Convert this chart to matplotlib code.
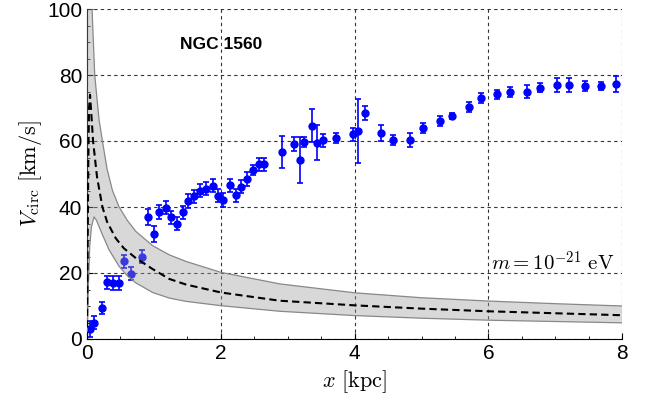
import matplotlib
matplotlib.use("Agg")
import matplotlib.pyplot as plt
import numpy as np
from matplotlib.ticker import MultipleLocator

plt.rcParams['mathtext.fontset'] = 'cm'
plt.rcParams['font.family'] = 'Liberation Sans'

# rotation curve data (NGC 1560)
r_obs = [0.04, 0.11, 0.22, 0.295, 0.395, 0.485, 0.56, 0.65, 0.82, 0.91, 1.00, 1.08,
         1.18, 1.26, 1.35, 1.44, 1.51, 1.60, 1.69, 1.78, 1.88, 1.955, 2.03, 2.13,
         2.23, 2.30, 2.385, 2.48, 2.57, 2.65, 2.91, 3.10, 3.18, 3.25, 3.36, 3.44,
         3.53, 3.72, 3.97, 4.05, 4.15, 4.40, 4.58, 4.83, 5.02, 5.28, 5.45, 5.71,
         5.89, 6.13, 6.32, 6.58, 6.77, 7.02, 7.20, 7.44, 7.68, 7.90]
v_obs = [3.0, 5.0, 9.4, 17.2, 17.0, 17.0, 23.5, 19.8, 25.0, 37.0, 31.8, 38.5,
         39.8, 36.9, 35.0, 38.4, 41.8, 43.2, 45.0, 45.5, 46.5, 43.4, 42.1, 46.6,
         43.6, 46.2, 48.5, 51.3, 53.0, 52.9, 56.7, 59.1, 54.2, 59.7, 64.6, 59.5,
         60.2, 60.8, 62.0, 63.0, 68.5, 62.5, 60.4, 60.3, 64.0, 66.1, 67.6, 70.4,
         72.9, 74.1, 74.9, 74.9, 76.2, 77.0, 77.0, 76.7, 76.7, 77.2]
v_err = [2.5, 2.0, 1.8, 2.0, 2.0, 2.0, 2.0, 2.0, 2.0, 2.5, 2.5, 2.0,
         2.0, 2.0, 2.0, 2.0, 2.0, 2.0, 2.0, 2.0, 2.0, 2.0, 2.0, 2.0,
         2.0, 2.0, 2.0, 1.5, 2.0, 2.0, 4.8, 2.0, 6.9, 1.5, 5.0, 5.4,
         2.0, 1.5, 2.0, 9.6, 2.0, 2.5, 1.5, 2.0, 1.5, 1.5, 1.0, 1.5,
         1.5, 1.5, 1.5, 2.0, 1.5, 2.0, 2.0, 1.5, 1.2, 2.5]

# model curve (dashed) and band edges
x_mid = [0, 0.01, 0.02, 0.03, 0.045, 0.07, 0.09, 0.15, 0.23, 0.3, 0.43, 0.55,
         0.73, 0.98, 1.23, 1.48, 2.0, 2.88, 4.0, 5.0, 6.0, 7.0, 8.0]
v_mid = [0, 30, 55, 70, 74, 66.4, 60, 49, 40, 35.5, 30.5, 27.5,
         24.5, 21.2, 18.2, 16.5, 14.1, 11.6, 10.2, 9.2, 8.4, 7.8, 7.2]

x_up = [0, 0.05, 0.075, 0.115, 0.18, 0.23, 0.3, 0.38, 0.48, 0.6, 0.73, 0.98,
        1.23, 1.48, 2.0, 2.88, 4.0, 5.0, 6.0, 7.0, 8.0]
v_up = [250, 130, 100, 80, 66.4, 60, 51.5, 45, 40, 36, 32.6, 28.3,
        25.5, 23.5, 20.2, 16.7, 14.0, 12.5, 11.5, 10.7, 10.0]

x_lo = [0, 0.02, 0.04, 0.066, 0.105, 0.14, 0.23, 0.33, 0.48, 0.6, 0.73, 0.98,
        1.23, 1.48, 2.0, 2.88, 4.0, 5.0, 6.0, 7.0, 8.0]
v_lo = [0, 16, 28, 34, 37, 36, 31.6, 27, 22, 19.2, 17, 14.1,
        12.4, 11.4, 10.1, 8.4, 7.1, 6.3, 5.7, 5.3, 4.9]

fig = plt.figure(figsize=(6.48, 4.0), dpi=100)
ax = fig.add_axes([0.1343, 0.1525, 0.826, 0.825])

ax.errorbar(r_obs, v_obs, yerr=v_err, fmt='o', color='#0000ff', ms=5,
            elinewidth=1.2, capsize=2, capthick=1.2, zorder=2)

# band drawn over the points, half transparent
x_band = np.union1d(x_up, x_lo)
ax.fill_between(x_band, np.interp(x_band, x_lo, v_lo), np.interp(x_band, x_up, v_up),
                color='#9a9a9a', alpha=0.38, lw=0, zorder=3)
ax.plot(x_up, v_up, color='#888888', lw=0.9, zorder=4)
ax.plot(x_lo, v_lo, color='#888888', lw=0.9, zorder=4)
ax.plot(x_mid, v_mid, color='black', lw=1.5, ls=(0, (3.5, 2)), zorder=5)

ax.set_xlim(0, 8)
ax.set_ylim(0, 100)
ax.xaxis.set_major_locator(MultipleLocator(2))
ax.xaxis.set_minor_locator(MultipleLocator(0.5))
ax.yaxis.set_major_locator(MultipleLocator(20))
ax.yaxis.set_minor_locator(MultipleLocator(5))
ax.tick_params(which='both', direction='in', top=False, right=False, labelsize=15)
ax.tick_params(which='major', length=4)
ax.tick_params(which='minor', length=2)
ax.grid(True, which='major', color='#333333', lw=0.8, ls=(0, (3, 3)))
ax.spines['top'].set_visible(False)
ax.spines['right'].set_visible(False)

ax.set_xlabel(r"$x\ \mathrm{[kpc]}$", fontsize=16, labelpad=4)
ax.set_ylabel(r"$V_{\rm circ}\ \mathrm{[km/s]}$", fontsize=16, labelpad=2)

ax.text(2.0, 89.2, "NGC 1560", fontsize=12.5, fontweight='bold', ha='center', va='center')
ax.text(7.88, 23, r"$m=10^{-21}\ \mathrm{eV}$", fontsize=15, ha='right', va='center')

fig.savefig("out.png", dpi=100)
